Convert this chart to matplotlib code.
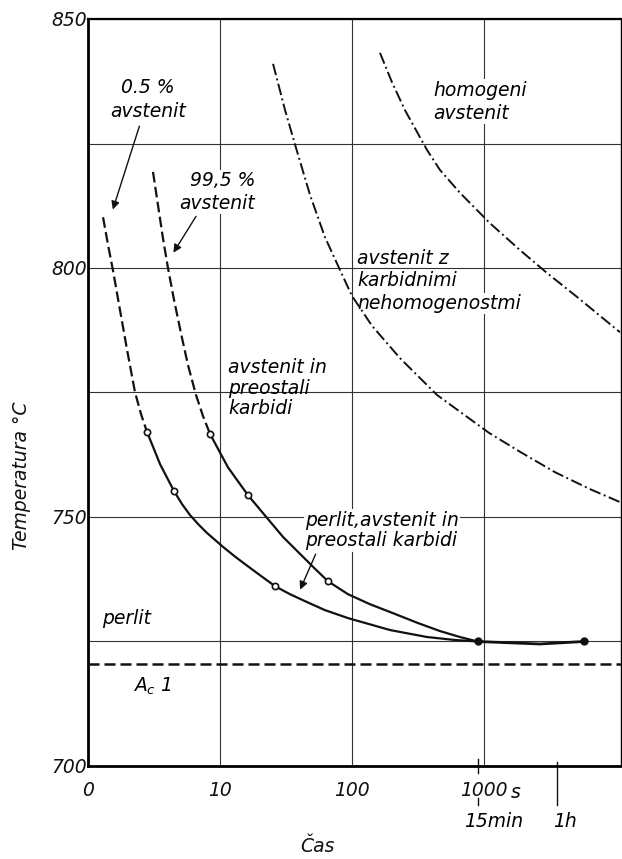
import matplotlib.pyplot as plt
import matplotlib.transforms as mtransforms

plt.rcParams['font.family'] = 'DejaVu Sans'
plt.rcParams['font.style'] = 'italic'
plt.rcParams['mathtext.fontset'] = 'dejavusans'

# 0.5 % avstenit (zacetek pretvorbe)
t_05_dash = [1.30, 1.42, 1.55, 1.72, 1.98, 2.27, 2.52, 2.80]
T_05_dash = [810.2, 804.6, 799.4, 792.6, 783.5, 775.1, 770.7, 767.1]
t_05 = [2.80, 3.52, 4.49, 5.16, 5.93, 6.94, 7.98, 10.56, 13.25, 16.9, 20.9, 26.2, 34.0,
        44.2, 62.6, 93.6, 195, 372, 606, 900]
T_05 = [767.1, 760.6, 755.2, 752.6, 750.4, 748.4, 746.8, 744.0, 741.9, 739.8, 738.0,
        736.1, 734.5, 733.1, 731.3, 729.7, 727.3, 725.9, 725.3, 725.0]
t_05_pts = [2.80, 4.49, 26.2]
T_05_pts = [767.1, 755.2, 736.1]

# 99.5 % avstenit (konec pretvorbe)
t_995_dash = [3.11, 3.39, 3.70, 4.04, 4.49, 5.07, 5.73, 6.59, 7.44, 8.41]
T_995_dash = [819.3, 812.7, 806.0, 800.0, 793.6, 786.9, 780.5, 774.5, 770.3, 766.7]
t_995 = [8.41, 11.5, 16.3, 22.8, 30.1, 40.5, 51.7, 66.0, 93.6, 137, 205, 318, 466,
         661, 900]
T_995 = [766.7, 760.0, 754.4, 749.8, 746.0, 742.6, 739.8, 737.1, 734.5, 732.5, 730.7,
         728.7, 727.1, 725.9, 725.0]
t_995_pts = [8.41, 16.3, 66.0]
T_995_pts = [766.7, 754.4, 737.1]

# skupni del pri Ac1
t_tail = [900, 2670, 5760]
T_tail = [725.0, 724.5, 725.0]

# meja karbidnih nehomogenosti
t_karb = [25.3, 31.2, 37.8, 48.2, 62.6, 81.4, 100.3, 142.3, 232, 443, 1097, 1885, 3472,
          6397, 10800]
T_karb = [841.0, 831.7, 824.1, 814.7, 806.2, 799.6, 794.4, 788.4, 781.9, 774.5, 766.9,
          763.1, 759.0, 755.6, 753.0]

# meja homogenega avstenita
t_hom = [163.6, 201.8, 253, 372, 466, 661, 1116, 1885, 3020, 5100, 10800]
T_hom = [843.2, 837.3, 831.7, 823.7, 819.7, 815.1, 809.0, 803.6, 799.0, 794.2, 787.1]

Ac1 = 720.5

x_ticks = [1, 10, 100, 1000]
x_labels = ['0', '10', '100', '1000']
y_ticks = [700, 725, 750, 775, 800, 825, 850]
y_labels = ['700', '', '750', '', '800', '', '850']

fig = plt.figure(figsize=(6.22, 8.59), dpi=100)
ax = fig.add_axes([88 / 622, 93 / 859, 533 / 622, 747 / 859])

k = '#111111'
fs = 13.5

ax.set_xscale('log')
ax.set_xlim(1, 11000)
ax.set_ylim(700, 850)
ax.set_xticks(x_ticks)
ax.set_xticklabels(x_labels)
ax.xaxis.set_minor_locator(plt.NullLocator())
ax.set_yticks(y_ticks)
ax.set_yticklabels(y_labels)
ax.tick_params(length=0, labelsize=fs, colors=k)
ax.tick_params(axis='x', pad=11)
ax.tick_params(axis='y', pad=1)
ax.grid(True, color='#333333', lw=0.8)
ax.set_axisbelow(True)
for s in ['left', 'bottom']:
    ax.spines[s].set_linewidth(2.0)
ax.spines['top'].set_linewidth(1.6)
ax.spines['right'].set_linewidth(1.0)

lw = 1.6
ax.plot(t_05_dash, T_05_dash, color=k, lw=lw, ls=(0, (4.8, 2)), zorder=4)
ax.plot(t_05, T_05, color=k, lw=lw, zorder=4)
ax.plot(t_995_dash, T_995_dash, color=k, lw=lw, ls=(0, (4.8, 2)), zorder=4)
ax.plot(t_995, T_995, color=k, lw=lw, zorder=4)
ax.plot(t_tail, T_tail, color=k, lw=2.0, zorder=4)
ax.plot(t_05_pts + t_995_pts, T_05_pts + T_995_pts, 'o', ms=4.5, mfc='white',
        mec=k, mew=1.2, zorder=5)
ax.plot([t_tail[0], t_tail[-1]], [T_tail[0], T_tail[-1]], 'o', ms=5, color=k, zorder=5)
ax.plot(t_karb, T_karb, color=k, lw=1.4, ls=(0, (6, 1.8, 1, 1.8)), zorder=4)
ax.plot(t_hom, T_hom, color=k, lw=1.4, ls=(0, (6, 1.8, 1, 1.8)), zorder=4)
ax.axhline(Ac1, color=k, lw=1.8, ls=(0, (4.4, 2)), zorder=4)

wb = dict(facecolor='white', edgecolor='none', pad=1)
arr = dict(arrowstyle='-|>', color=k, lw=1.0, mutation_scale=12)

ax.annotate('0.5 %\navstenit', xy=(1.52, 811.2), xytext=(2.85, 833.9),
            ha='center', va='center', fontsize=fs, linespacing=1.35,
            arrowprops=arr, zorder=3)
ax.annotate('99,5 %\navstenit', xy=(4.33, 802.6), xytext=(18.5, 815.3),
            ha='right', va='center', ma='right', fontsize=fs, linespacing=1.25,
            bbox=wb, arrowprops=dict(arr, relpos=(0.25, 0)), zorder=3)
ax.text(413, 833.4, 'homogeni\navstenit', ha='left', va='center',
        fontsize=fs, linespacing=1.25, bbox=wb, zorder=3)
ax.text(109.5, 799.7, 'avstenit z\nkarbidnimi', ha='left', va='center',
        fontsize=fs, linespacing=1.2, zorder=3)
ax.text(109.5, 792.9, 'nehomogenostmi', ha='left', va='center',
        fontsize=fs, bbox=wb, zorder=3)
ax.text(11.5, 775.9, 'avstenit in\npreostali\nkarbidi', ha='left', va='center',
        fontsize=fs, linespacing=1.12, zorder=3)
ax.annotate('perlit,avstenit in\npreostali karbidi', xy=(39.8, 734.9),
            xytext=(44.2, 747.3), ha='left', va='center', fontsize=fs,
            linespacing=1.12, bbox=wb,
            arrowprops=dict(arr, relpos=(0.08, 0)), zorder=3)
ax.text(1.28, 729.7, 'perlit', ha='left', va='center', fontsize=fs, zorder=3)
ax.text(2.19, 715.9, r'$A_c$ 1', ha='left', va='center', fontsize=fs, zorder=3)

# casovne oznake
tr = mtransforms.blended_transform_factory(ax.transData, ax.transAxes)
t_15min = 900
t_1h = 3600
ax.plot([t_15min, t_15min], [0.0094, -0.0094], color=k, lw=1.0, transform=tr, clip_on=False)
ax.plot([t_15min, t_15min], [-0.0428, -0.0522], color=k, lw=1.0, transform=tr, clip_on=False)
ax.plot([t_1h, t_1h], [0.0054, -0.0522], color=k, lw=1.0, transform=tr, clip_on=False)
ax.annotate('s', xy=(1000, 0), xycoords=tr, xytext=(19.5, -19), textcoords='offset points',
            ha='left', va='center', fontsize=fs)
ax.annotate('15min', xy=(t_15min, 0), xycoords=tr, xytext=(-10, -40),
            textcoords='offset points', ha='left', va='center', fontsize=fs)
ax.annotate('1h', xy=(t_1h, 0), xycoords=tr, xytext=(-3, -40),
            textcoords='offset points', ha='left', va='center', fontsize=fs)

fig.text(22 / 622, 1 - 476 / 859, 'Temperatura °C', rotation=90, ha='center',
         va='center', fontsize=fs, color=k)
fig.text(317 / 622, 1 - 846 / 859, 'Čas', ha='center', va='center', fontsize=fs, color=k)

fig.savefig('out.png', dpi=100, facecolor='white')
